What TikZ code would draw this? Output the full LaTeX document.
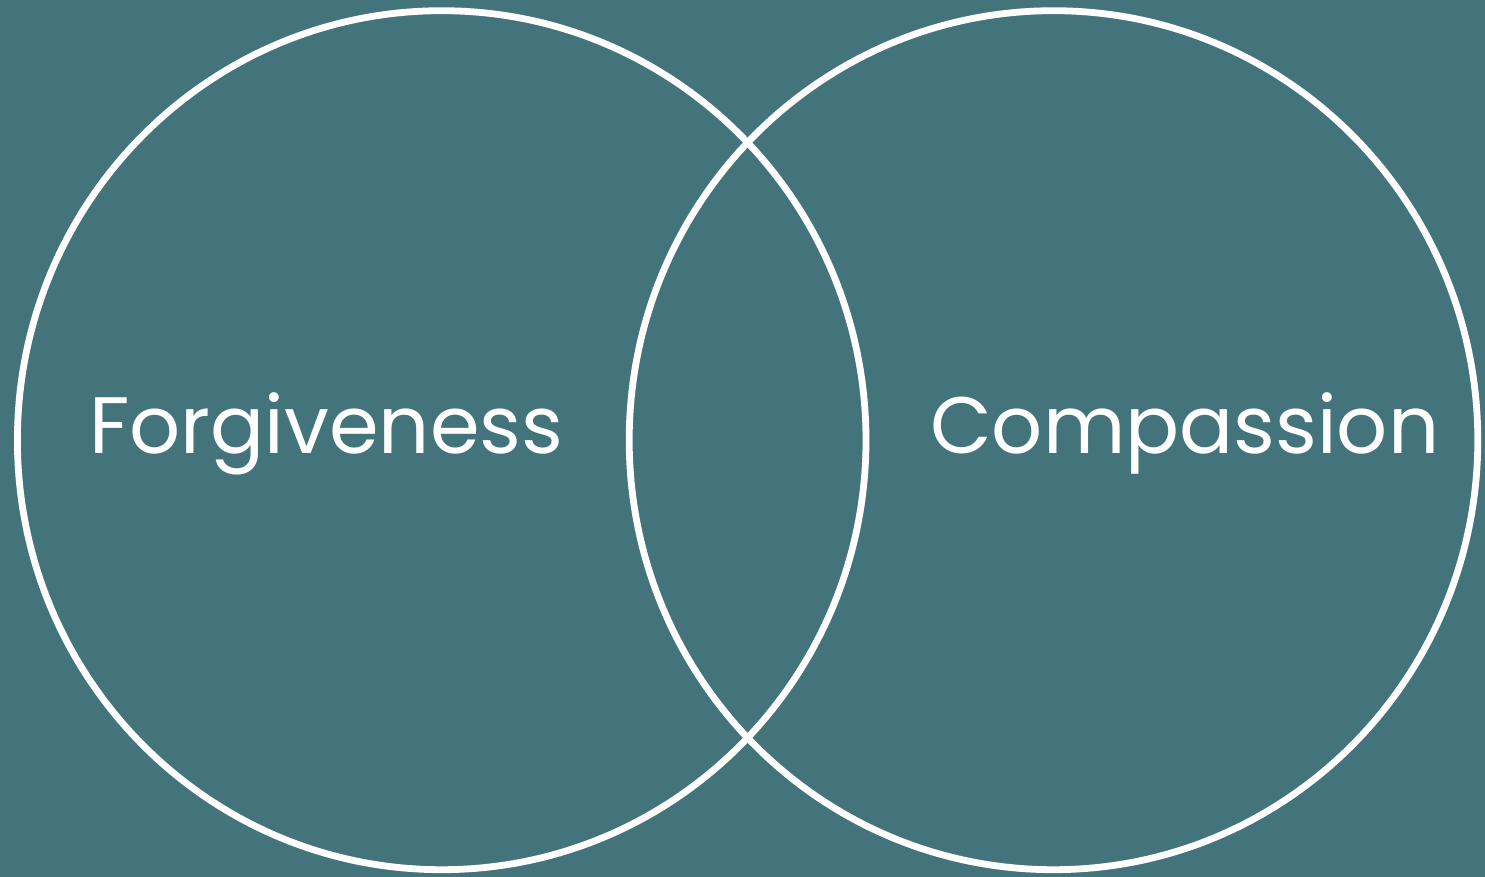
\documentclass[tikz,border=0pt]{standalone}
\usepackage{fontspec}
\usetikzlibrary{shapes.geometric}
\setmainfont{Poppins}
\definecolor{bgteal}{HTML}{43747C}
\tikzset{
  venn/.style={draw=white, line width=6.8pt, ellipse, inner sep=0pt,
    minimum width=848.6pt, minimum height=859pt},
  label/.style={text=white, inner sep=0pt, font=\fontsize{80}{90}\selectfont}
}
\begin{document}
\begin{tikzpicture}[x=1pt,y=-1pt]
\fill[bgteal] (0,0) rectangle (1485,877);
\useasboundingbox (0,0) rectangle (1485,877);
\node[venn] (left) at (441.7,440.2) {};
\node[venn] (right) at (1053.5,440.2) {};
\node[label, anchor=base west] (forg) at (89,453) {Forgiveness};
\node[label, anchor=base west] (comp) at (930,453) {Compassion};
\end{tikzpicture}
\end{document}
